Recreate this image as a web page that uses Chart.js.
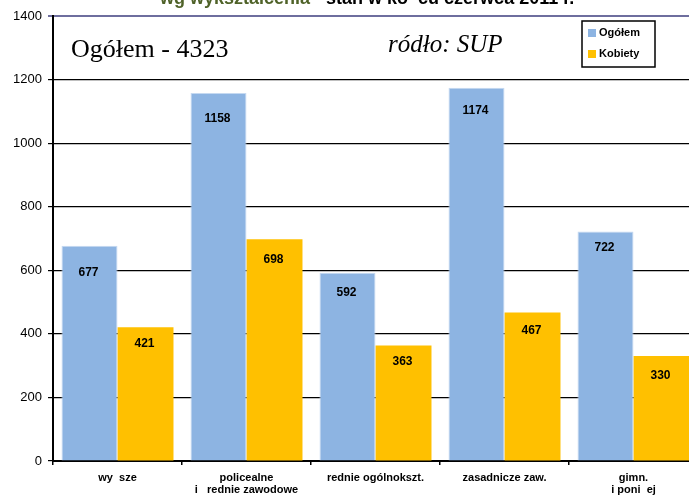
<!DOCTYPE html>
<html lang="pl">
<head>
    <meta charset="UTF-8">
    <title>Bezrobotni wg wykształcenia</title>
    <script src="https://cdn.jsdelivr.net/npm/chart.js"></script>
    <style>
        html, body { margin: 0; padding: 0; background: #fff; overflow: hidden; }
        #wrap { position: relative; width: 689px; height: 497px; overflow: hidden; }
    </style>
</head>
<body>
    <!-- płótno szersze od okna: ostatnia kategoria w oryginale jest ucięta z prawej -->
    <div id="wrap"><canvas id="chart" width="698" height="497"></canvas></div>
    <script>
        // dane
        var categories = [['wy  sze'], ['policealne', 'i   rednie zawodowe'], ['rednie ogólnokszt.'], ['zasadnicze zaw.'], ['gimn.', 'i poni  ej']];
        var ogolem = [677, 1158, 592, 1174, 722];
        var kobiety = [421, 698, 363, 467, 330];
        var yTicks = [0, 200, 400, 600, 800, 1000, 1200, 1400];

        // przesunięcie etykiet wartości w dół od wierzchołka słupka (px)
        var labelDrop = [[27, 26, 20, 23, 16], [17, 21, 16, 18, 20]];

        var sans = '"Liberation Sans", Arial, sans-serif';
        var serif = '"Liberation Serif", "Times New Roman", serif';

        // teksty nad wykresem, etykiety wartości i legenda w ramce
        var extras = {
            id: 'extras',
            afterDatasetsDraw: function (chart) {
                var ctx = chart.ctx;
                ctx.save();
                ctx.fillStyle = '#000';
                ctx.font = 'bold 12px ' + sans;
                ctx.textAlign = 'center';
                ctx.textBaseline = 'middle';
                chart.data.datasets.forEach(function (ds, i) {
                    chart.getDatasetMeta(i).data.forEach(function (bar, j) {
                        ctx.fillText(ds.data[j], bar.x - 1, bar.y + labelDrop[i][j]);
                    });
                });
                ctx.restore();
            },
            afterDraw: function (chart) {
                var ctx = chart.ctx;
                ctx.save();
                // tytuł (ucięty u góry)
                ctx.font = 'bold 18px ' + sans;
                ctx.textBaseline = 'alphabetic';
                ctx.textAlign = 'left';
                var t1 = 'wg wykształcenia', t2 = ' - stan w ko  cu czerwca 2011 r.';
                ctx.fillStyle = '#4f6228';
                ctx.fillText(t1, 160, 4);
                var w1 = ctx.measureText(t1).width;
                ctx.fillStyle = '#000';
                ctx.fillText(t2, 160 + w1, 4);

                ctx.font = '26px ' + serif;
                ctx.fillText('Ogółem - 4323', 71, 57);
                ctx.font = 'italic 25px ' + serif;
                ctx.fillText('ródło: SUP', 388, 52);

                // legenda
                ctx.fillStyle = '#fff';
                ctx.fillRect(582, 21, 73, 46);
                ctx.strokeStyle = '#000';
                ctx.lineWidth = 1.5;
                ctx.strokeRect(582, 21, 73, 46);
                ctx.font = 'bold 11px ' + sans;
                ctx.textBaseline = 'middle';
                chart.data.datasets.forEach(function (ds, i) {
                    var y = 33 + i * 21;
                    ctx.fillStyle = ds.backgroundColor;
                    ctx.fillRect(588, y - 4, 8, 8);
                    ctx.fillStyle = '#000';
                    ctx.fillText(ds.label, 599, y);
                });
                ctx.restore();
            }
        };

        new Chart(document.getElementById('chart'), {
            type: 'bar',
            data: {
                labels: categories,
                datasets: [
                    { label: 'Ogółem', data: ogolem, backgroundColor: '#8db4e2', borderColor: '#c5d9f1', borderWidth: { left: 1, right: 1, top: 1 } },
                    { label: 'Kobiety', data: kobiety, backgroundColor: '#ffc000' }
                ]
            },
            options: {
                responsive: false,
                animation: false,
                layout: { padding: { top: 16, right: 0, left: 0, bottom: 0 } },
                datasets: { bar: { categoryPercentage: 0.868, barPercentage: 1 } },
                plugins: { legend: { display: false }, tooltip: { enabled: false } },
                scales: {
                    x: {
                        grid: { drawOnChartArea: false, drawTicks: true, tickLength: 4, color: '#000', lineWidth: 1.5 },
                        border: { color: '#000', width: 2 },
                        ticks: { color: '#000', font: { family: sans, size: 11, weight: 'bold', lineHeight: 1.1 }, padding: 7, maxRotation: 0, autoSkip: false },
                        afterFit: function (s) { s.height = 36; }
                    },
                    y: {
                        min: 0,
                        max: 1400,
                        afterBuildTicks: function (s) { s.ticks = yTicks.map(function (v) { return { value: v }; }); },
                        grid: {
                            color: function (c) { return c.tick && c.tick.value === 1400 ? '#6e6e9e' : '#000'; },
                            lineWidth: function (c) { return c.tick && c.tick.value === 1400 ? 2 : 1.2; },
                            tickLength: 5
                        },
                        border: { color: '#000', width: 2 },
                        ticks: {
                            color: '#000', font: { family: sans, size: 13 }, padding: 6,
                            callback: function (v) { return String(v); }
                        },
                        afterFit: function (s) { s.width = 53; }
                    }
                }
            },
            plugins: [extras]
        });
    </script>
</body>
</html>
